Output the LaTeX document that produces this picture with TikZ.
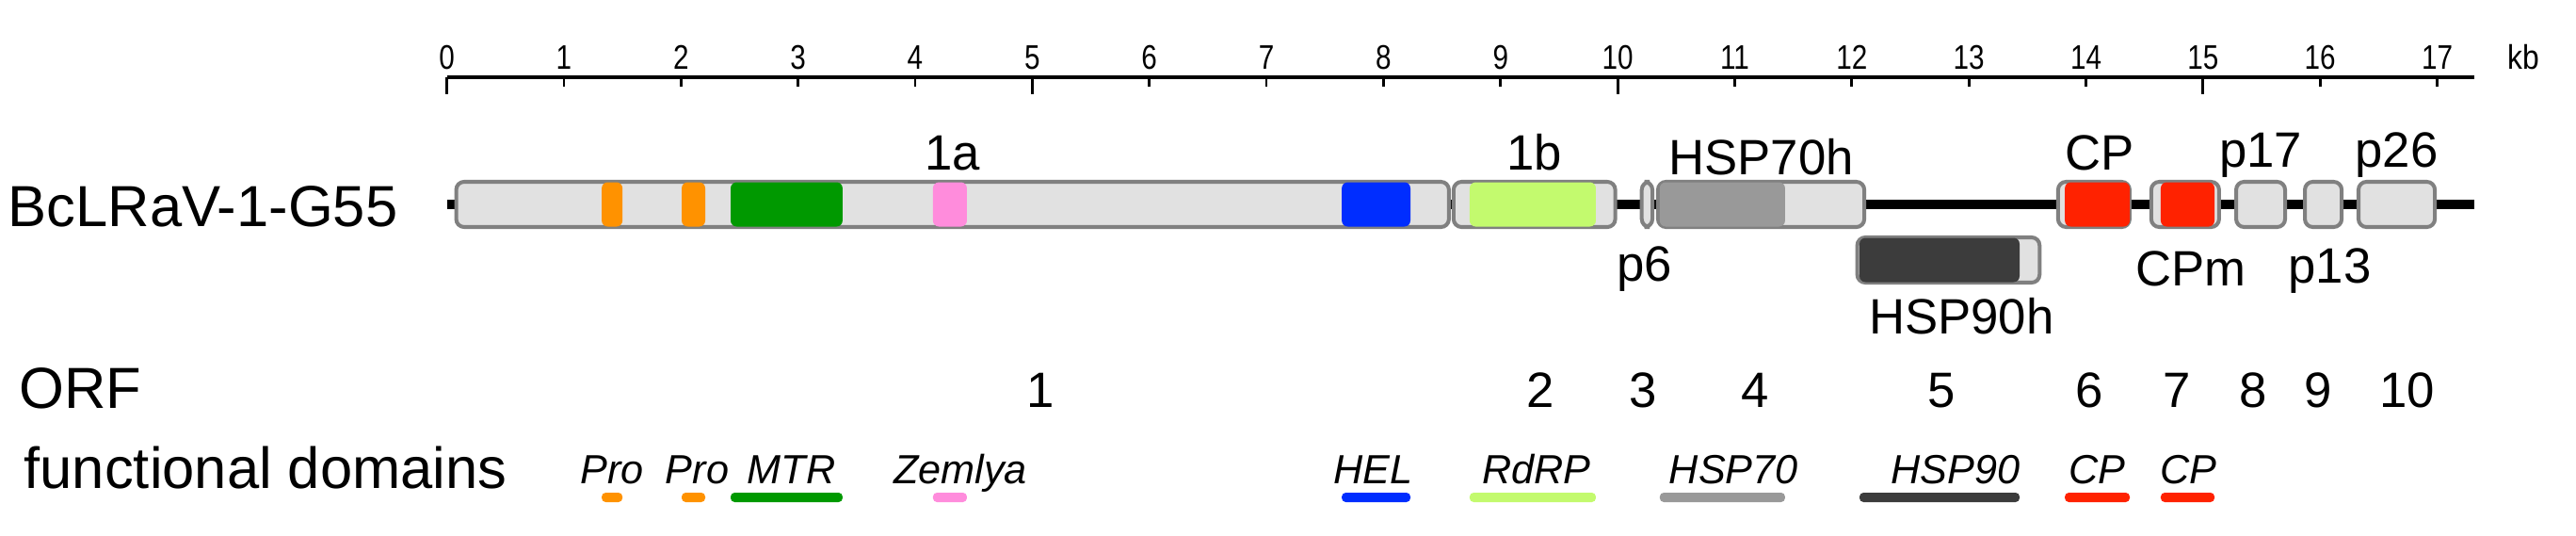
\documentclass[tikz,border=0pt]{standalone}
\usepackage{fontspec}
\setmainfont{Liberation Sans}
\usetikzlibrary{positioning}

\definecolor{orfgray}{RGB}{225,225,225}
\definecolor{edgegray}{RGB}{128,128,128}
\definecolor{proorange}{RGB}{255,146,0}
\definecolor{mtrgreen}{RGB}{0,153,0}
\definecolor{zempink}{RGB}{255,140,220}
\definecolor{helblue}{RGB}{0,45,255}
\definecolor{rdrpgreen}{RGB}{195,250,110}
\definecolor{hspgray}{RGB}{153,153,153}
\definecolor{hspdark}{RGB}{60,60,60}
\definecolor{cpred}{RGB}{255,34,0}

\tikzset{
  orf/.style={rectangle, rounded corners=2.4pt, draw=edgegray, line width=1.15pt, fill=orfgray,
    inner sep=0pt, outer sep=0pt, minimum height=0.48cm},
  dombox/.style={rectangle, rounded corners=1.8pt, fill=#1, inner sep=0pt, outer sep=0pt,
    minimum height=0.47cm},
  legbar/.style={fill=#1, rounded corners=1.2pt, inner sep=0pt, outer sep=0pt, minimum height=0.1cm},
  orflabel/.style={font=\fontsize{15}{18}\selectfont, anchor=base, inner sep=0pt},
  rowlabel/.style={font=\fontsize{17.5}{21}\selectfont, anchor=base west, inner sep=0pt},
  domlabel/.style={font=\fontsize{12.3}{15}\selectfont\itshape, anchor=base, inner sep=0pt},
  ticklabel/.style={font=\fontsize{10.3}{12}\selectfont, anchor=base, inner sep=0pt},
}

\begin{document}
\begin{tikzpicture}[x=1.2435cm,y=1cm]
\useasboundingbox (-4.746cm,-3.51cm) rectangle (22.614cm,2.17cm);

% kb scale
\coordinate (ax0) at (0,1.35);
\coordinate (ax1) at (17.32,1.35);
\draw[line width=1.15pt] (ax0) -- (ax1);
\foreach \k in {0,...,17}{
  \draw[line width=0.8pt] (\k,1.35) -- (\k,1.25);
  \node[ticklabel] (t\k) at (\k,1.435) {\scalebox{0.82}[1]{\k}};
}
\foreach \k in {0,5,10,15}
  \draw[line width=0.8pt] (\k,1.35) -- (\k,1.17);
\node[ticklabel] (kb) at (17.735,1.435) {\scalebox{0.88}[1]{kb}};

% genome
\coordinate (g0) at (0,0);
\coordinate (g1) at (17.32,0);
\draw[line width=2.85pt] (g0) -- (g1);

\foreach \nm/\xa/\xb/\yy in {1a/0.08/8.559/0, 1b/8.599/9.98/0, p6/10.206/10.297/0,
    h70/10.345/12.107/0, h90/12.047/13.604/-0.59, cp/13.762/14.373/0,
    cpm/14.558/15.137/0, p17/15.283/15.701/0, p13/15.870/16.184/0, p26/16.328/16.980/0}
  \node[orf, minimum width={(\xb-\xa)*1.2435cm}] (orf\nm) at ({(\xa+\xb)/2},\yy) {};

% domains and legend
\coordinate (legrow) at (0,-3.11);
\foreach \nm/\xa/\xb/\col/\yy/\txt/\dx in {pro1/1.323/1.500/proorange/0/Pro/0,
    pro2/2.006/2.207/proorange/0/Pro/0.04, mtr/2.424/3.380/mtrgreen/0/MTR/0.05,
    zem/4.152/4.442/zempink/0/Zemlya/0.11, hel/7.644/8.230/helblue/0/HEL/-0.03,
    rdrp/8.736/9.814/rdrpgreen/0/RdRP/0.04, h70/10.360/11.430/hspgray/0/HSP70/0.12,
    h90/12.066/13.433/hspdark/-0.59/HSP90/0.17, cp1/13.820/14.374/cpred/0/CP/0,
    cp2/14.639/15.098/cpred/0/CP/0.01}{
  \node[dombox=\col, minimum width={(\xb-\xa)*1.2435cm}] (dom\nm) at ({(\xa+\xb)/2},\yy) {};
  \node[legbar=\col, minimum width={(\xb-\xa)*1.2435cm}] (leg\nm) at (dom\nm |- legrow) {};
  \node[domlabel] (lab\nm) at ([xshift=\dx cm, yshift=0.1cm]leg\nm.north) {\txt};
}

% ORF names
\node[orflabel] (name1a) at ([yshift=0.13cm]orf1a.north) {1a};
\node[orflabel] (name1b) at ([yshift=0.13cm]orf1b.north) {1b};
\node[orflabel] (nameh70) at ([yshift=0.08cm]orfh70.north) {HSP70h};
\node[orflabel] (namecp) at ([xshift=0.06cm,yshift=0.13cm]orfcp.north) {CP};
\node[orflabel] (namep17) at ([yshift=0.16cm]orfp17.north) {p17};
\node[orflabel] (namep26) at ([yshift=0.16cm]orfp26.north) {p26};
\node[orflabel] (namep6) at ([xshift=-0.03cm,yshift=-0.57cm]orfp6.south) {p6};
\node[orflabel] (namecpm) at ([xshift=0.06cm,yshift=-0.62cm]orfcpm.south) {CPm};
\node[orflabel] (namep13) at ([xshift=0.07cm,yshift=-0.59cm]orfp13.south) {p13};
\node[orflabel] (nameh90) at ([xshift=0.14cm,yshift=-0.54cm]orfh90.south) {HSP90h};

% rows
\node[rowlabel] (virus) at (-4.666cm,-0.23cm) {BcLRaV-1-G55};
\node[rowlabel] (orfrow) at (-4.546cm,-2.16cm) {ORF};
\node[rowlabel] (domrow) at (-4.496cm,-3.01cm) {functional domains};
\foreach \k/\p in {1/5.074, 2/9.340, 3/10.221, 4/11.173, 5/12.766, 6/14.029,
    7/14.776, 8/15.428, 9/15.980, 10/16.743}
  \node[orflabel] (num\k) at (\p,-2.15) {\k};
\end{tikzpicture}
\end{document}
